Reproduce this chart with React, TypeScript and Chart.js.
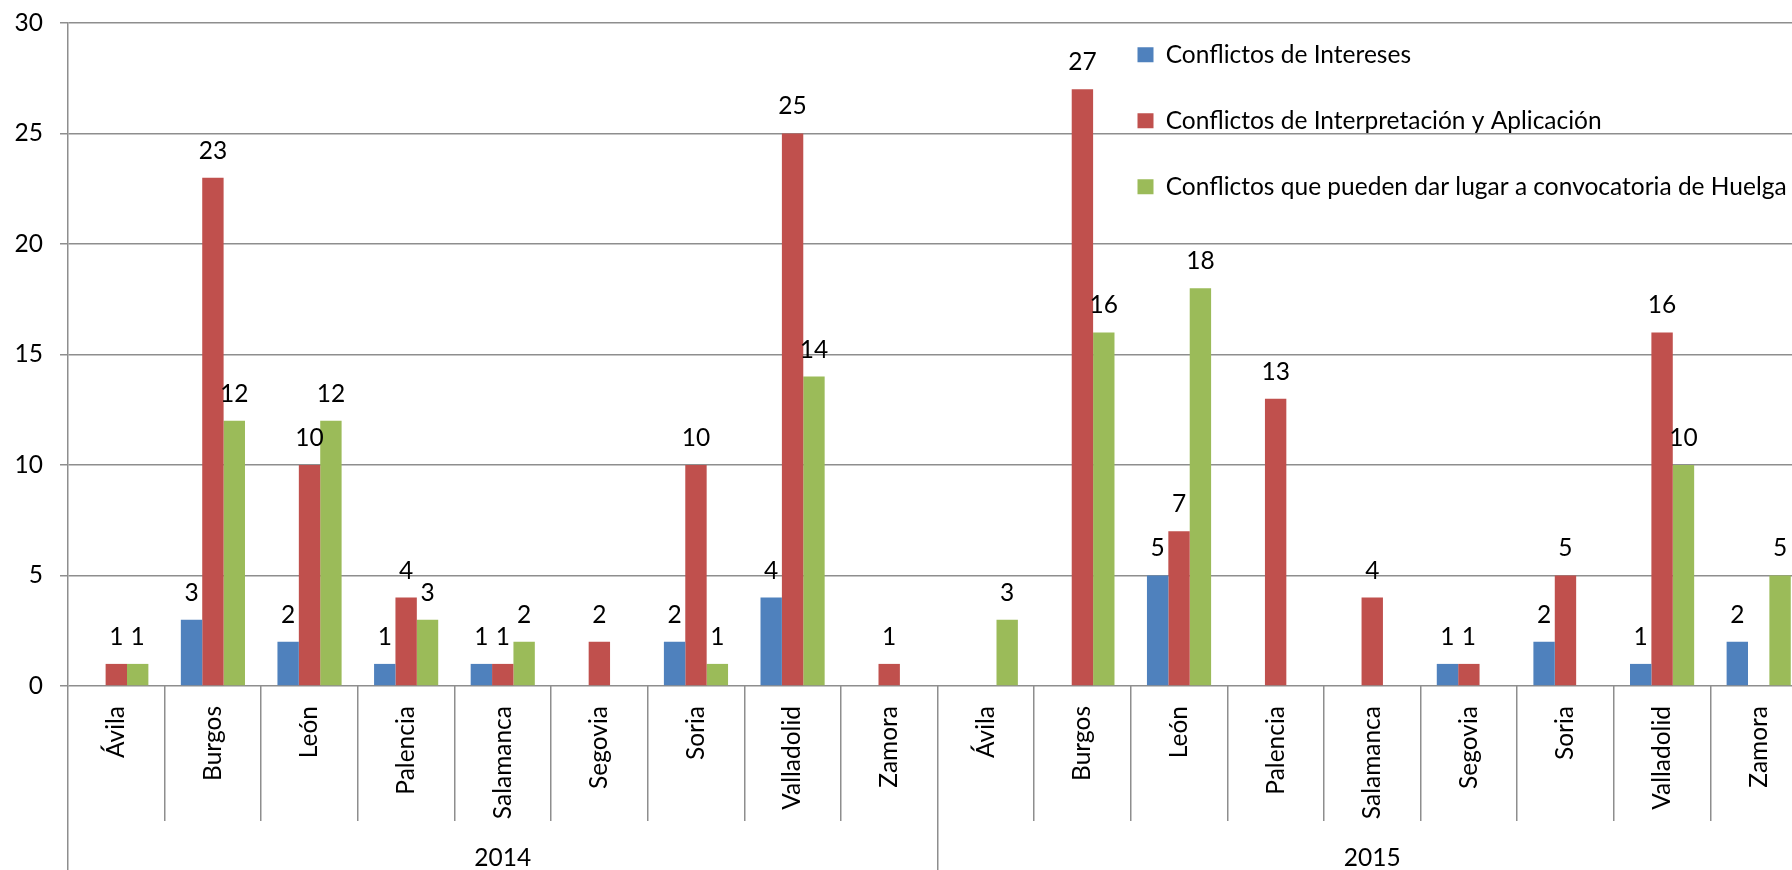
import React, { useEffect, useRef } from 'react';
import { Chart, registerables } from 'chart.js';

Chart.register(...registerables);

const categories = [
  'Ávila', 'Burgos', 'León', 'Palencia', 'Salamanca', 'Segovia', 'Soria', 'Valladolid', 'Zamora',
  'Ávila', 'Burgos', 'León', 'Palencia', 'Salamanca', 'Segovia', 'Soria', 'Valladolid', 'Zamora',
];
const years = ['2014', '2015'];

const seriesNames = [
  'Conflictos de Intereses',
  'Conflictos de Interpretación y Aplicación',
  'Conflictos que pueden dar lugar a convocatoria de Huelga',
];
const seriesColors = ['#4F81BD', '#C0504D', '#9BBB59'];

const intereses = [null, 3, 2, 1, 1, null, 2, 4, null, null, null, 5, null, null, 1, 2, 1, 2];
const interpretacion = [1, 23, 10, 4, 1, 2, 10, 25, 1, null, 27, 7, 13, 4, 1, 5, 16, null];
const huelga = [1, 12, 12, 3, 2, null, 1, 14, null, 3, 16, 18, null, null, null, null, 10, 5];

const yMin = 0;
const yMax = 30;
const yStep = 5;

const FONT = 'Lato';
const FS = 24.5;
const GRID = '#8e8e8e';
const GW = 1.5;

const valueLabels = {
  id: 'valueLabels',
  afterDatasetsDraw(chart: any) {
    const ctx = chart.ctx;
    ctx.save();
    ctx.font = `${FS}px ${FONT}`;
    ctx.fillStyle = '#000';
    ctx.textAlign = 'center';
    ctx.textBaseline = 'middle';
    chart.data.datasets.forEach((ds: any, di: number) => {
      const meta = chart.getDatasetMeta(di);
      meta.data.forEach((el: any, i: number) => {
        const v = ds.data[i];
        if (v === null || v === undefined) return;
        ctx.fillText(String(v), el.x, el.y - 27);
      });
    });
    ctx.restore();
  },
};

const legendPlacer = {
  id: 'legendPlacer',
  afterLayout(chart: any) {
    const lg = chart.legend;
    if (!lg) return;
    const left = chart.chartArea.left + 1028;
    const top = chart.chartArea.top - 22;
    lg.left = left;
    lg.right = left + lg.width;
    lg.top = top;
    lg.bottom = top + lg.height;
  },
};

export default function App() {
  const canvasRef = useRef<HTMLCanvasElement | null>(null);

  useEffect(() => {
    if (!canvasRef.current) return;
    const data = [intereses, interpretacion, huelga];
    const chart = new Chart(canvasRef.current, {
      type: 'bar',
      data: {
        labels: categories,
        datasets: data.map((d, i) => ({
          label: seriesNames[i],
          data: d as any,
          backgroundColor: seriesColors[i],
          borderWidth: 0,
          categoryPercentage: 0.664,
          barPercentage: 1,
          xAxisID: 'x',
          yAxisID: 'y',
        })),
      },
      options: {
        responsive: true,
        maintainAspectRatio: false,
        animation: false,
        layout: { padding: { top: 23, left: 0, right: 0, bottom: 0 } },
        plugins: {
          legend: {
            position: 'chartArea' as any,
            align: 'start',
            labels: {
              boxWidth: 16,
              boxHeight: 15,
              padding: 41.5,
              color: '#000',
              font: { family: FONT, size: FS },
            },
          },
          tooltip: { enabled: false },
        },
        scales: {
          x: {
            type: 'category',
            position: 'bottom',
            weight: 0,
            offset: true,
            grid: {
              offset: true,
              drawOnChartArea: false,
              drawTicks: true,
              tickLength: 135,
              color: GRID,
              lineWidth: GW,
            },
            border: { display: false },
            ticks: {
              autoSkip: false,
              minRotation: 90,
              maxRotation: 90,
              padding: -115,
              color: '#000',
              font: { family: FONT, size: FS },
            },
            afterFit: (s: any) => {
              s.height = 135;
            },
          },
          x2: {
            type: 'category',
            position: 'bottom',
            weight: 1,
            labels: years,
            offset: true,
            grid: {
              offset: true,
              drawOnChartArea: false,
              drawTicks: true,
              tickLength: 49,
              color: GRID,
              lineWidth: GW,
            },
            border: { display: false },
            ticks: {
              autoSkip: false,
              maxRotation: 0,
              padding: -26.5,
              color: '#000',
              font: { family: FONT, size: FS },
            },
            afterFit: (s: any) => {
              s.height = 49;
            },
          },
          y: {
            min: yMin,
            max: yMax,
            ticks: {
              stepSize: yStep,
              padding: 17,
              color: '#000',
              font: { family: FONT, size: FS },
            },
            grid: { color: GRID, lineWidth: GW, tickLength: 8, drawTicks: true },
            border: { display: true, color: GRID, width: GW },
            afterFit: (s: any) => {
              s.width = 68;
              s.paddingTop = 10;
              s.paddingBottom = 10;
            },
          },
        } as any,
      },
      plugins: [valueLabels, legendPlacer],
    });
    return () => chart.destroy();
  }, []);

  return (
    <div
      style={{
        position: 'fixed',
        left: 0,
        top: 0,
        width: 1792,
        height: 870,
        overflow: 'hidden',
        background: '#fff',
      }}
    >
      <div style={{ position: 'relative', width: 1807, height: 870 }}>
        <canvas ref={canvasRef} />
      </div>
    </div>
  );
}
